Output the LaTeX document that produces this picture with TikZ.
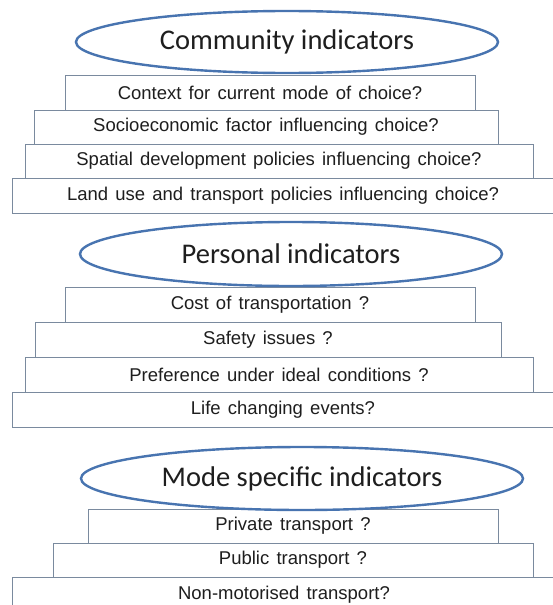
\documentclass[tikz,border=0pt]{standalone}
\usepackage{fontspec}
\setmainfont{Liberation Sans}[WordSpace={1.4,0.2,0.2}]
\newfontfamily\titlefont{Carlito}
\usetikzlibrary{shapes.geometric}
\definecolor{boxline}{RGB}{122,138,158}
\definecolor{ellline}{RGB}{72,116,176}
\definecolor{txt}{RGB}{30,30,30}
\tikzset{
  stepbox/.style={draw=boxline, line width=1pt, fill=white, rectangle, inner sep=0pt,
    text=txt, font=\fontsize{18.5}{20}\selectfont},
  titleell/.style={draw=ellline, line width=2.4pt, fill=white, ellipse, inner sep=0pt,
    text=txt, font=\titlefont\fontsize{28.5}{30}\selectfont},
}
\begin{document}
\begin{tikzpicture}[x=1pt,y=-1pt]
\useasboundingbox[fill=white] (0,0) rectangle (552,605);
% Community
\node[stepbox, minimum width=542pt, minimum height=35pt] (c4) at (283,195.5) {Land use and transport policies influencing choice?};
\node[stepbox, minimum width=508pt, minimum height=34pt] (c3) at (279,161) {Spatial development policies influencing choice?};
\node[stepbox, minimum width=464pt, minimum height=34pt] (c2) at (266,127) {Socioeconomic factor influencing choice?};
\node[stepbox, minimum width=410pt, minimum height=35pt] (c1) at (270,92.5) {Context for current mode of choice?};
\node[titleell, minimum width=422pt, minimum height=62pt] (ce) at (287,42) {Community indicators};
% Personal
\node[stepbox, minimum width=542pt, minimum height=35pt] (p4) at (283,409.5) {Life changing events?};
\node[stepbox, minimum width=508pt, minimum height=35pt] (p3) at (279,374.5) {Preference under ideal conditions ?};
\node[stepbox, minimum width=466pt, minimum height=35pt] (p2) at (268,339.5) {Safety issues ?};
\node[stepbox, minimum width=410pt, minimum height=35pt] (p1) at (270,304.5) {Cost of transportation ?};
\node[titleell, minimum width=422pt, minimum height=64pt] (pe) at (291,254) {Personal indicators};
% Mode specific
\node[stepbox, minimum width=544pt, minimum height=35pt] (m3) at (284,594.5) {Non-motorised transport?};
\node[stepbox, minimum width=480pt, minimum height=34pt] (m2) at (293,560) {Public transport ?};
\node[stepbox, minimum width=410pt, minimum height=34pt] (m1) at (293,526) {Private transport ?};
\node[titleell, minimum width=442pt, minimum height=63pt] (me) at (302,478.5) {Mode specific indicators};
\end{tikzpicture}
\end{document}
